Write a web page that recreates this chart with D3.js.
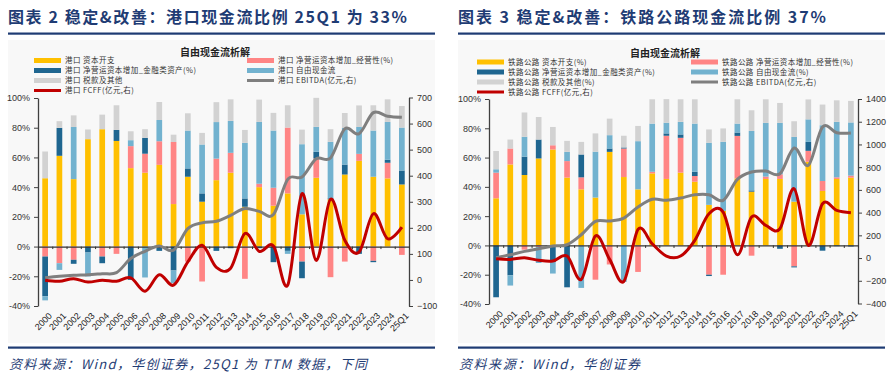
<!DOCTYPE html>
<html><head><meta charset="utf-8">
<script src="https://cdn.jsdelivr.net/npm/d3@7"></script>
<style>
html,body{margin:0;padding:0;background:#fff;}
svg{display:block;}
</style></head>
<body>
<svg id="c" width="896" height="382"></svg>
<script>
// ---------- DATA ----------
const categories = ["2000","2001","2002","2003","2004","2005","2006","2007","2008","2009","2010","2011","2012","2013","2014","2015","2016","2017","2018","2019","2020","2021","2022","2023","2024","25Q1"];

// Port (港口), % of operating cash flow
const portCapex = [46, 61.1, 45.4, 72.3, 79.0, 71.1, 52.8, 49.7, 55.0, 28.6, 47.0, 30.2, 44.7, 49.7, 26.8, 40.0, 27.5, 35.8, 21.7, 46.3, 31.8, 48.5, 57.7, 47.0, 45.9, 41.8];
const portWcOp  = [-6.7, -11.2, -8.9, 0, -6.7, -4.9, 14.8, 12.8, 15.9, 41.8, -10.1, -23.5, 14.5, 13.4, -21.7, 2.3, 12.1, 44.3, -10.1, 13.0, -20.6, -10.1, 4.7, -9.6, 10.5, -5.6];
const portWcFin = [-26.8, 18.8, -2.7, -4.0, -4.5, 7.4, -22.4, 10.7, -2.9, -16.1, 5.6, 5.6, -2.9, -1.1, 5.6, -1.1, -10.5, -2.9, -11.2, 4.5, 0.7, 6.7, -4.9, -0.9, 2.0, 9.4];
const portFcf   = [-2.7, -4.5, 35.1, -16.1, 0, 0, 4.0, -20.8, 14.3, -8.5, 25.5, 32.9, 24.6, 21.5, 37.4, 41.6, 38.5, -2.0, 47.2, 16.8, 38.0, 24.6, 18.1, 31.1, 25.5, 28.9];
const portTax   = [18, 4.5, 7.8, 6.5, 9.8, 16.6, 6.0, 5.8, 12.1, 4.9, 11.6, 7.8, 13.4, 14.5, 8.7, 15.0, 11.9, 15.0, 9.8, 19.5, 8.5, 10.1, 14.5, 17.0, 15.2, 14.5];
const portEbitda = [8, 14, 18, 20, 24, 28, 82, 110, 130, 114, 197, 219, 225, 248, 274, 263, 251, 386, 395, 465, 468, 580, 561, 642, 628, 624];
const portFcff   = [-1, -5, 5, -8, -1, -5, 8, -43, 20, -20, 69, 133, 48, 45, 178, 110, 130, -20, 331, 75, 310, 152, 107, 254, 158, 203];

// Rail & road (铁路公路)
const railCapex = [32.2, 55.3, 48.1, 59.4, 65.5, 46.3, 38.3, 32.7, 63.9, 46.7, 38.3, 49.2, 45.4, 49.7, 43.5, 27.7, 23.6, 45.8, 36.7, 45.4, 45.4, 29.9, 57.1, 37.2, 45.4, 46.3];
const railWcOp  = [17.5, 10.9, -2.9, -1.0, 2.9, 11.3, 8.2, -23.4, -13.0, 19.5, -18.1, 1.1, 29.5, 23.8, 3.9, -20.0, -20.0, 29.0, -7.0, 1.6, 3.2, -14.3, 7.5, 6.8, 1.1, 1.4];
const railWcFin = [-35.4, -20.4, 12.5, 12.9, -11.3, -28.6, 15.6, 0, 2.3, 0.7, 0, 0, 1.6, 2.3, 2.9, -0.9, 0, 2.3, 0.9, 0, -2.3, -0.7, 6.1, -3.6, -0.5, -0.7];
const railFcf   = [2.3, -7.0, 13.6, -11.0, -7.9, 6.3, -29.0, 31.3, 9.1, -24.9, 32.9, 32.9, 7.3, 8.6, 32.9, 42.4, 47.2, 6.1, 40.6, 36.7, 35.1, 44.2, 15.4, 38.1, 37.9, 36.3];
const railTax   = [12.5, 6.1, 16.6, 15.4, 12.5, 7.5, 8.6, 12.5, 11.3, 8.0, 10.4, 16.6, 16.1, 15.4, 16.6, 9.1, 9.1, 16.6, 14.1, 16.1, 13.6, 10.7, 13.6, 14.1, 14.7, 14.7];
const railEbitda = [3, 29, 59, 82, 106, 117, 205, 323, 326, 352, 449, 517, 508, 528, 557, 557, 508, 693, 757, 766, 742, 969, 816, 1153, 1103, 1100];
const railFcff   = [-6, -12, 3, -20, -26, 18, -188, 194, -12, -205, 252, 126, 18, 18, 156, 390, 405, 29, 361, 288, 258, 610, 112, 478, 420, 399];

const leftTicksPct = [-40, -20, 0, 20, 40, 60, 80, 100];
const portRightTicks = [-100, 0, 100, 200, 300, 400, 500, 600, 700];
const railRightTicks = [-400, -200, 0, 200, 400, 600, 800, 1000, 1200, 1400];

const portLegend = ["港口 资本开支", "港口 净营运资本增加_经营性(%)", "港口 净营运资本增加_金融类资产(%)", "港口 自由现金流", "港口 税款及其他", "港口 EBITDA(亿元,右)", "港口 FCFF(亿元,右)"];
const railLegend = ["铁路公路 资本开支(%)", "铁路公路 净营运资本增加_经营性(%)", "铁路公路 净营运资本增加_金融类资产(%)", "铁路公路 自由现金流(%)", "铁路公路 税款及其他(%)", "铁路公路 EBITDA(亿元,右)", "铁路公路 FCFF(亿元,右)"];

const seriesKeys = ["capex", "wcOp", "wcFin", "fcf", "tax"];
const colors = {capex:"#FFC000", wcOp:"#FF8585", wcFin:"#1F6690", fcf:"#72B2CF", tax:"#D2D2D2", ebitda:"#7F7F7F", fcff:"#C00000"};
const NAVY = "#1F3C74";
const CJK = "'Noto Sans CJK SC','Noto Sans',sans-serif";
const LAT = "'Liberation Sans',Arial,sans-serif";

const svg = d3.select("#c");

function drawPanel(o) {
  const g = svg.append("g");
  g.append("rect").attr("x", o.bx0).attr("y", 40).attr("width", o.bx1 - o.bx0).attr("height", 303).attr("fill", "#f8f8f8");
  g.append("text").attr("x", o.bx0).attr("y", 23).text(o.title)
    .attr("font-family", CJK).attr("font-weight", 700).attr("font-size", 16).attr("fill", NAVY)
    .attr("textLength", o.titleLen).attr("lengthAdjust", "spacing");
  g.append("rect").attr("x", o.bx0).attr("y", 32.5).attr("width", o.bx1 - o.bx0).attr("height", 2.2).attr("fill", NAVY);
  g.append("rect").attr("x", o.bx0).attr("y", 346.5).attr("width", o.bx1 - o.bx0).attr("height", 2.2).attr("fill", NAVY);
  g.append("text").attr("x", o.bx0 + 1).attr("y", 369).text(o.source)
    .attr("font-family", CJK).attr("font-style", "italic").attr("font-size", 13).attr("fill", NAVY)
    .attr("textLength", o.sourceLen).attr("lengthAdjust", "spacing");

  const x = d3.scaleBand().domain(categories).range([o.x0, o.x1]).paddingInner(0.6).paddingOuter(0.3);
  const xi = d3.scaleLinear().domain([0, categories.length]).range([o.x0, o.x1]);
  const yL = d3.scaleLinear().domain([-40, 100]).range([o.yB, o.yT]);
  const yR = d3.scaleLinear().domain(o.rDomain).range([o.yRB, o.yRT]);
  const cx = c => x(c) + x.bandwidth() / 2;

  const rows = categories.map((c, i) => ({cat: c, capex: o.capex[i], wcOp: o.wcOp[i], wcFin: o.wcFin[i], fcf: o.fcf[i], tax: o.tax[i]}));
  const stack = d3.stack().keys(seriesKeys).offset(d3.stackOffsetDiverging)(rows);
  g.append("g").selectAll("g").data(stack).join("g").attr("fill", d => colors[d.key])
    .selectAll("rect").data(d => d).join("rect")
    .attr("x", d => x(d.data.cat)).attr("width", x.bandwidth())
    .attr("y", d => yL(Math.max(d[0], d[1]))).attr("height", d => Math.abs(yL(d[0]) - yL(d[1])));

  const axL = g.append("g").attr("transform", `translate(${o.x0},0)`)
    .call(d3.axisLeft(yL).tickValues(leftTicksPct).tickFormat(d => d + "%").tickSize(4).tickPadding(4).tickSizeOuter(0));
  const axR = g.append("g").attr("transform", `translate(${o.x1},0)`)
    .call(d3.axisRight(yR).tickValues(o.rTicks).tickFormat(d3.format("d")).tickSize(4).tickPadding(4).tickSizeOuter(0));
  [axL, axR].forEach(a => {
    a.select(".domain").attr("stroke", "#404040").attr("stroke-width", 1.3);
    a.selectAll(".tick line").attr("stroke", "#404040");
    a.selectAll(".tick text").attr("font-family", LAT).attr("font-size", 9).attr("fill", "#333");
  });
  const axX = g.append("g").attr("transform", `translate(0,${yL(0)})`)
    .call(d3.axisBottom(xi).tickValues(d3.range(categories.length + 1)).tickFormat("").tickSize(2.5).tickSizeOuter(0));
  axX.select(".domain").attr("stroke", "#333").attr("stroke-width", 1.3);
  axX.selectAll(".tick line").attr("stroke", "#333");

  g.append("g").selectAll("text").data(categories).join("text")
    .attr("transform", c => `translate(${cx(c) + 3},${o.yB + 6}) rotate(-45)`)
    .attr("text-anchor", "end").attr("dy", "0.7em")
    .attr("font-family", LAT).attr("font-size", 9).attr("fill", "#222").text(c => c);

  const line = vals => d3.line().x((v, i) => cx(categories[i])).y(v => yR(v)).curve(d3.curveCardinal.tension(0))(vals);
  g.append("path").attr("d", line(o.ebitda)).attr("fill", "none").attr("stroke", colors.ebitda).attr("stroke-width", 3).attr("stroke-linejoin", "round");
  g.append("path").attr("d", line(o.fcff)).attr("fill", "none").attr("stroke", colors.fcff).attr("stroke-width", 3).attr("stroke-linejoin", "round");

  g.append("text").attr("x", o.legTitleX).attr("y", o.legTitleY).attr("text-anchor", "middle")
    .attr("font-family", CJK).attr("font-weight", 700).attr("font-size", 10).attr("fill", "#222").text("自由现金流析解");
  const items = [
    {k: "capex", col: 0, row: 0, type: "bar", label: o.legend[0]},
    {k: "wcOp", col: 1, row: 0, type: "bar", label: o.legend[1]},
    {k: "wcFin", col: 0, row: 1, type: "bar", label: o.legend[2]},
    {k: "fcf", col: 1, row: 1, type: "bar", label: o.legend[3]},
    {k: "tax", col: 0, row: 2, type: "bar", label: o.legend[4]},
    {k: "ebitda", col: 1, row: 2, type: "line", label: o.legend[5]},
    {k: "fcff", col: 0, row: 3, type: "line", label: o.legend[6]}
  ];
  items.forEach(it => {
    const yy = o.legRows[it.row];
    const sx = o.legCols[it.col];
    if (it.type === "bar") {
      g.append("rect").attr("x", sx).attr("y", yy - 2.5).attr("width", o.swW).attr("height", 5).attr("fill", colors[it.k]);
    } else {
      g.append("line").attr("x1", sx).attr("x2", sx + o.swW).attr("y1", yy).attr("y2", yy).attr("stroke", colors[it.k]).attr("stroke-width", 3);
    }
    g.append("text").attr("x", sx + o.swW + 4).attr("y", yy + 2.8).attr("font-family", CJK).attr("font-size", 7.5)
      .attr("letter-spacing", 0.45).attr("fill", "#333").text(it.label);
  });
}

drawPanel({
  bx0: 8, bx1: 435, x0: 38, x1: 409, yT: 98, yB: 306, yRT: 97.5, yRB: 306, rDomain: [-100, 700], rTicks: portRightTicks,
  capex: portCapex, wcOp: portWcOp, wcFin: portWcFin, fcf: portFcf, tax: portTax, ebitda: portEbitda, fcff: portFcff,
  title: "图表 2  稳定&改善：港口现金流比例 25Q1 为 33%", titleLen: 399,
  source: "资料来源：Wind，华创证券，25Q1 为 TTM 数据，下同", sourceLen: 358,
  legend: portLegend, legTitleX: 215, legTitleY: 55.5, legRows: [60.5, 70.5, 80.5, 90.5], legCols: [34, 247], swW: 27
});
drawPanel({
  bx0: 458, bx1: 885, x0: 489, x1: 858, yT: 99, yB: 304, yRT: 99, yRB: 303.5, rDomain: [-400, 1400], rTicks: railRightTicks,
  capex: railCapex, wcOp: railWcOp, wcFin: railWcFin, fcf: railFcf, tax: railTax, ebitda: railEbitda, fcff: railFcff,
  title: "图表 3  稳定&改善：铁路公路现金流比例 37%", titleLen: 368,
  source: "资料来源：Wind，华创证券", sourceLen: 181,
  legend: railLegend, legTitleX: 665, legTitleY: 57, legRows: [62, 72, 82, 92], legCols: [477, 691], swW: 27
});
</script>
</body></html>
